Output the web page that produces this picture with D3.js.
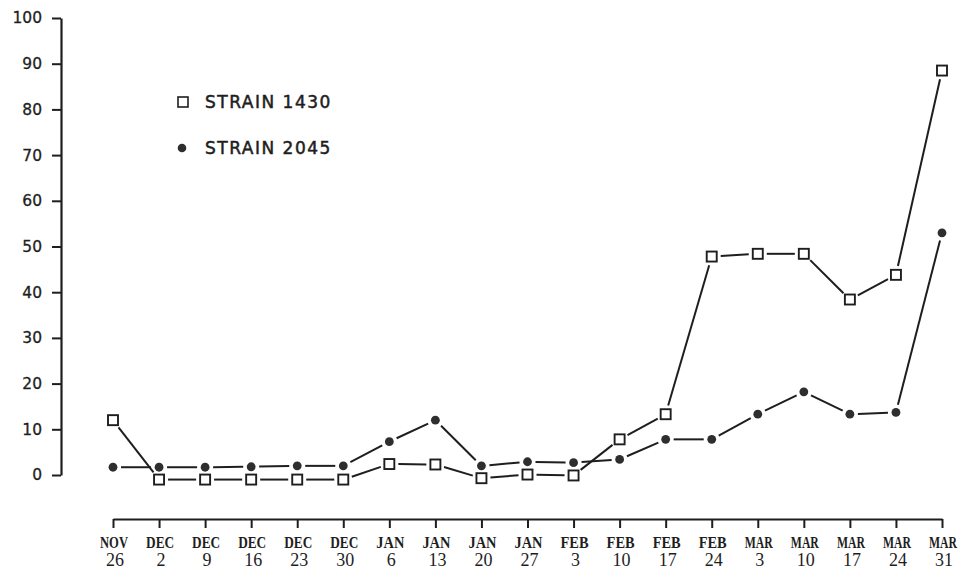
<!DOCTYPE html>
<html>
<head>
<meta charset="utf-8">
<script src="https://cdn.jsdelivr.net/npm/d3@7"></script>
<style>
  html, body { margin: 0; padding: 0; background: #fff; }
  svg { display: block; }
</style>
</head>
<body>
<svg id="chart" width="966" height="573"></svg>
<script>
// ---- data ----
const months = ["NOV","DEC","DEC","DEC","DEC","DEC","JAN","JAN","JAN","JAN","FEB","FEB","FEB","FEB","MAR","MAR","MAR","MAR","MAR"];
const days   = ["26","2","9","16","23","30","6","13","20","27","3","10","17","24","3","10","17","24","31"];
const strain1430 = [12, -1, -1, -1, -1, -1, 2.4, 2.3, -0.7, 0.1, -0.1, 7.8, 13.3, 47.8, 48.4, 48.4, 38.4, 43.8, 88.5];
const strain2045 = [1.7, 1.7, 1.7, 1.8, 2.0, 2.0, 7.3, 12.0, 2.0, 2.9, 2.7, 3.4, 7.8, 7.8, 13.3, 18.2, 13.3, 13.7, 53.0];
const yTicks = [0, 10, 20, 30, 40, 50, 60, 70, 80, 90, 100];
const legendLabels = ["STRAIN 1430", "STRAIN 2045"];

// ---- chart ----
const svg = d3.select("#chart");
const ink = "#1e1e1e";
const keys = months.map((m, i) => i);

const x = d3.scalePoint().domain(keys).range([113, 942]);
const y = d3.scaleLinear().domain([0, 100]).range([475, 18]);

// Y axis
const yAxis = svg.append("g")
  .attr("transform", "translate(61,0)")
  .call(d3.axisLeft(y).tickValues(yTicks).tickSize(9).tickSizeOuter(0).tickPadding(10));
yAxis.select(".domain").attr("stroke", ink).attr("stroke-width", 2.2);
yAxis.selectAll(".tick line").attr("stroke", ink).attr("stroke-width", 2);
yAxis.selectAll(".tick text")
  .attr("fill", ink)
  .attr("stroke", ink).attr("stroke-width", 0.3)
  .style("font-family", "'DejaVu Sans', sans-serif")
  .style("font-size", "15.5px");

// X axis
const xAxisY = 519;
const xAxis = svg.append("g")
  .attr("transform", `translate(0,${xAxisY})`)
  .call(d3.axisBottom(x).tickSize(9).tickSizeOuter(0).tickFormat(""));
xAxis.select(".domain").attr("stroke", ink).attr("stroke-width", 2.2);
xAxis.selectAll(".tick line").attr("stroke", ink).attr("stroke-width", 2);

const lab = svg.append("g");
lab.selectAll("text.mon").data(keys).enter().append("text")
  .attr("class", "mon")
  .attr("x", d => x(d) + 1)
  .attr("y", 548)
  .attr("text-anchor", "middle")
  .attr("fill", ink)
  .attr("textLength", 28)
  .attr("lengthAdjust", "spacingAndGlyphs")
  .style("font-family", "'Liberation Serif', serif")
  .style("font-weight", "bold")
  .style("font-size", "16px")
  .text(d => months[d]);
lab.selectAll("text.day").data(keys).enter().append("text")
  .attr("class", "day")
  .attr("x", d => x(d) + 2)
  .attr("y", 566)
  .attr("text-anchor", "middle")
  .attr("fill", ink)
  .style("font-family", "'Liberation Serif', serif")
  .style("font-size", "18px")
  .text(d => days[d]);

// Lines with gaps near markers
function drawSeries(vals, gap) {
  const g = svg.append("g");
  for (let i = 0; i < vals.length - 1; i++) {
    const x1 = x(keys[i]), y1 = y(vals[i]);
    const x2 = x(keys[i + 1]), y2 = y(vals[i + 1]);
    const dx = x2 - x1, dy = y2 - y1;
    const L = Math.hypot(dx, dy);
    if (L <= 2 * gap) continue;
    const ux = dx / L, uy = dy / L;
    g.append("line")
      .attr("x1", x1 + ux * gap).attr("y1", y1 + uy * gap)
      .attr("x2", x2 - ux * gap).attr("y2", y2 - uy * gap)
      .attr("stroke", ink).attr("stroke-width", 2);
  }
}
drawSeries(strain1430, 9);
drawSeries(strain2045, 8);

// Markers
svg.append("g").selectAll("rect").data(keys).enter().append("rect")
  .attr("x", d => x(d) - 5)
  .attr("y", d => y(strain1430[d]) - 5)
  .attr("width", 10).attr("height", 10)
  .attr("fill", "#fff").attr("stroke", ink).attr("stroke-width", 1.9);

svg.append("g").selectAll("circle").data(keys).enter().append("circle")
  .attr("cx", d => x(d))
  .attr("cy", d => y(strain2045[d]))
  .attr("r", 4.4)
  .attr("fill", "#2e2e2e");

// Legend
const leg = svg.append("g");
leg.append("rect").attr("x", 178).attr("y", 97).attr("width", 10).attr("height", 10)
  .attr("fill", "#fff").attr("stroke", ink).attr("stroke-width", 1.6);
leg.append("circle").attr("cx", 182).attr("cy", 148).attr("r", 4.3).attr("fill", "#2e2e2e");
leg.selectAll("text").data(legendLabels).enter().append("text")
  .attr("x", 205)
  .attr("y", (d, i) => 108 + i * 46)
  .attr("fill", ink)
  .attr("stroke", ink).attr("stroke-width", 0.5)
  .style("font-family", "'DejaVu Sans', sans-serif")
  .style("font-size", "17px")
  .style("letter-spacing", "1.5px")
  .text(d => d);
</script>
</body>
</html>
